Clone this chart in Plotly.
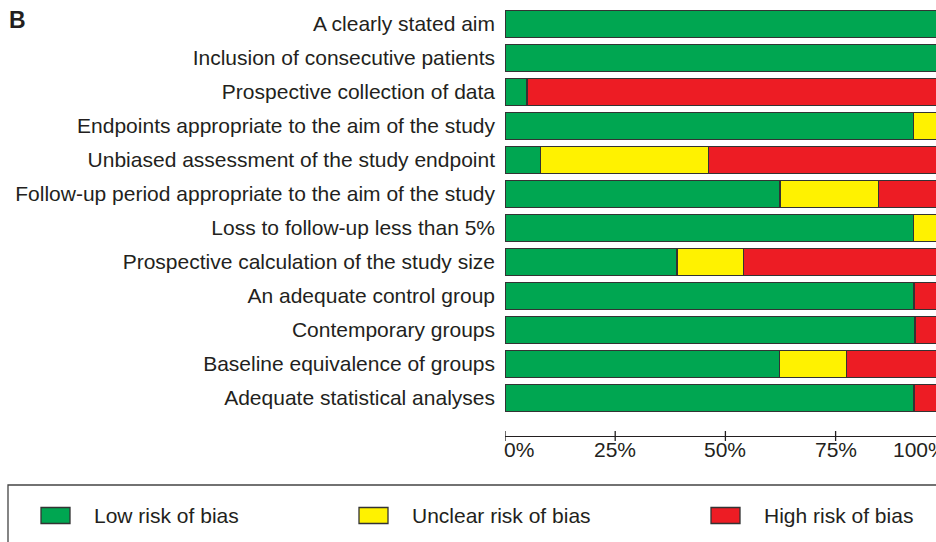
import plotly.graph_objects as go

# ---- data (percent of studies) ----
categories = [
    "A clearly stated aim",
    "Inclusion of consecutive patients",
    "Prospective collection of data",
    "Endpoints appropriate to the aim of the study",
    "Unbiased assessment of the study endpoint",
    "Follow-up period appropriate to the aim of the study",
    "Loss to follow-up less than 5%",
    "Prospective calculation of the study size",
    "An adequate control group",
    "Contemporary groups",
    "Baseline equivalence of groups",
    "Adequate statistical analyses",
]
low_risk = [100, 100, 5.0, 92.6, 8.0, 62.4, 92.6, 39.0, 92.8, 93.0, 62.3, 92.8]
unclear_risk = [0, 0, 0, 7.4, 38.2, 22.3, 7.4, 15.1, 0, 0, 15.1, 0]
high_risk = [0, 0, 95.0, 0, 53.8, 15.3, 0, 45.9, 7.2, 7.0, 22.6, 7.2]

series_names = ["Low risk of bias", "Unclear risk of bias", "High risk of bias"]
series_colors = ["#00A651", "#FFF200", "#ED1C24"]
x_ticks = [0, 25, 50, 75, 100]
x_tick_labels = ["0%", "25%", "50%", "75%", "100%"]
panel_label = "B"

# ---- layout geometry ----
W, H = 936, 542
ML, MR, MT, MB = 505, 0, 0, 106
PW, PH = W - ML - MR, H - MT - MB
PX_PER_PCT = 4.408
X_MAX = PW / PX_PER_PCT  # the original figure is cropped just short of 100%
FONT = "Liberation Sans, Arial, Helvetica, sans-serif"
FS = 21
TXT = "#231F20"
EDGE = "#333333"


def px_x(px):
    return (px - ML) / PW


def px_y(py):
    return (H - MB - py) / PH


fig = go.Figure()
for name, vals, col in zip(series_names, [low_risk, unclear_risk, high_risk], series_colors):
    fig.add_trace(go.Bar(
        y=categories, x=vals, orientation="h", name=name,
        marker=dict(color=col, line=dict(color=EDGE, width=1.3)),
        width=0.806, showlegend=False,
    ))

n = len(categories)
pitch = 34.0
fig.update_layout(
    width=W, height=H,
    margin=dict(l=ML, r=MR, t=MT, b=MB, pad=0),
    barmode="stack",
    plot_bgcolor="white", paper_bgcolor="white",
    font=dict(family=FONT, size=FS, color=TXT),
    xaxis=dict(range=[0, X_MAX], showgrid=False, zeroline=False,
               showticklabels=False, ticks="", showline=True,
               linecolor=TXT, linewidth=1.3),
    yaxis=dict(type="category", categoryarray=categories,
               range=[n - 1 + 38 / pitch, -24 / pitch],
               showgrid=False, zeroline=False, showline=False, ticks="",
               ticklabelstandoff=9,
               tickfont=dict(family=FONT, size=FS, color=TXT)),
)

# crossing ticks and tick labels of the percentage axis
for v, lab in zip(x_ticks, x_tick_labels):
    if v <= X_MAX:
        fig.add_shape(type="line", xref="x", yref="paper", x0=v, x1=v,
                      y0=-5 / PH, y1=5 / PH, line=dict(color=TXT, width=1.3))
    if v == x_ticks[0]:
        anchor, shift = "left", -3
    elif v == x_ticks[-1]:
        anchor, shift = "right", 3
    else:
        anchor, shift = "center", 0
    fig.add_annotation(x=v / X_MAX, y=px_y(450), xref="paper", yref="paper", text=lab,
                       showarrow=False, xanchor=anchor, yanchor="middle", xshift=shift,
                       font=dict(family=FONT, size=FS, color=TXT))

# panel label
fig.add_annotation(x=px_x(7), y=px_y(20), xref="paper", yref="paper", text="<b>" + panel_label + "</b>",
                   showarrow=False, xanchor="left", yanchor="middle",
                   font=dict(family=FONT, size=23, color=TXT))

# legend box (cropped on the right and bottom like the original)
fig.add_shape(type="rect", xref="paper", yref="paper",
              x0=px_x(8), x1=px_x(W + 20), y0=px_y(485), y1=px_y(H + 20),
              line=dict(color="#444444", width=1.3), fillcolor="rgba(0,0,0,0)")

swatch_left = [41, 359, 711]
text_left = [92, 410, 762]
for name, col, sx, tx in zip(series_names, series_colors, swatch_left, text_left):
    fig.add_shape(type="rect", xref="paper", yref="paper",
                  x0=px_x(sx), x1=px_x(sx + 29), y0=px_y(507.5), y1=px_y(523.5),
                  line=dict(color=EDGE, width=1.3), fillcolor=col)
    fig.add_annotation(x=px_x(tx), y=px_y(515), xref="paper", yref="paper", text=name,
                       showarrow=False, xanchor="left", yanchor="middle",
                       font=dict(family=FONT, size=FS, color=TXT))

fig.write_html(
    "out.html",
    config={"displayModeBar": False},
    post_script="document.body.style.margin='0';document.body.style.overflow='hidden';",
)
